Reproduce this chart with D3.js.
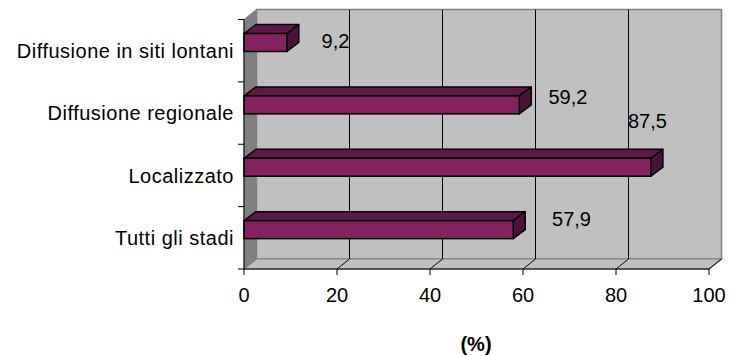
<!DOCTYPE html>
<html>
<head>
<meta charset="utf-8">
<script src="https://cdn.jsdelivr.net/npm/d3@7"></script>
<style>
  html, body { margin: 0; padding: 0; background: #ffffff; }
  svg { display: block; }
  text { font-family: "Liberation Sans", Arial, sans-serif; fill: #000; }
</style>
</head>
<body>
<svg id="chart" width="730" height="356"></svg>
<script>
// Survival by stage (%)
const categories = ["Diffusione in siti lontani", "Diffusione regionale", "Localizzato", "Tutti gli stadi"];
const values = [9.2, 59.2, 87.5, 57.9];
const valueLabels = ["9,2", "59,2", "87,5", "57,9"];
const xTicks = [0, 20, 40, 60, 80, 100];
const axisTitle = "(%)";

// Label nudges (px) relative to bar end / bar middle
const labelNudge = [[48.7, -1.5], [48.7, -8], [-3.4, -46.5], [58.3, -10.5]];

const svg = d3.select("#chart");

const x = d3.scaleLinear().domain([0, 100]).range([244, 709]);
const y = d3.scaleBand().domain(categories).range([19.5, 269]).paddingInner(0).paddingOuter(0);

// 3D depth offset of the walls and of the bars
const wall = { dx: 12.5, dy: -10 };
const bar = { dx: 12, dy: -9 };

const x0 = x(0), x1 = x(100), yTop = y.range()[0], yBot = y.range()[1];

// Back wall
svg.append("rect")
  .attr("x", x0 + wall.dx).attr("y", yTop + wall.dy)
  .attr("width", x1 - x0).attr("height", yBot - yTop)
  .attr("fill", "#c0c0c0").attr("stroke", "#808080").attr("stroke-width", 1.5);

// Left side wall
svg.append("polygon")
  .attr("points", [[x0, yTop], [x0 + wall.dx, yTop + wall.dy], [x0 + wall.dx, yBot + wall.dy], [x0, yBot]].join(" "))
  .attr("fill", "#808080").attr("stroke", "#808080").attr("stroke-width", 1);

// Floor
svg.append("polygon")
  .attr("points", [[x0, yBot], [x0 + wall.dx, yBot + wall.dy], [x1 + wall.dx, yBot + wall.dy], [x1, yBot]].join(" "))
  .attr("fill", "#c0c0c0").attr("stroke", "#808080").attr("stroke-width", 1.2);

// Gridlines on the back wall
svg.append("g").selectAll("line")
  .data(xTicks.slice(1, -1))
  .join("line")
  .attr("x1", d => x(d) + wall.dx).attr("x2", d => x(d) + wall.dx)
  .attr("y1", yTop + wall.dy).attr("y2", yBot + wall.dy)
  .attr("stroke", "#000").attr("stroke-width", 1);

// Floor diagonals at each tick
svg.append("g").selectAll("line")
  .data(xTicks.slice(1))
  .join("line")
  .attr("x1", d => x(d)).attr("x2", d => x(d) + wall.dx)
  .attr("y1", yBot).attr("y2", yBot + wall.dy)
  .attr("stroke", "#000").attr("stroke-width", 1);

// Bars
const faceTop = d => y(d) + 14;
const faceH = 18;
const g = svg.append("g").selectAll("g")
  .data(categories.map((c, i) => ({ c, v: values[i], i })))
  .join("g");

// top face
g.append("polygon")
  .attr("points", d => {
    const t = faceTop(d.c), a = x(0), b = x(d.v);
    return [[a, t], [a + bar.dx, t + bar.dy], [b + bar.dx, t + bar.dy], [b, t]].join(" ");
  })
  .attr("fill", "#5e1a47").attr("stroke", "#000").attr("stroke-width", 1.5).attr("stroke-linejoin", "round");

// end face
g.append("polygon")
  .attr("points", d => {
    const t = faceTop(d.c), b = x(d.v);
    return [[b, t], [b + bar.dx, t + bar.dy], [b + bar.dx, t + faceH + bar.dy], [b, t + faceH]].join(" ");
  })
  .attr("fill", "#4a1238").attr("stroke", "#000").attr("stroke-width", 1.5).attr("stroke-linejoin", "round");

// front face
g.append("rect")
  .attr("x", x(0)).attr("y", d => faceTop(d.c))
  .attr("width", d => x(d.v) - x(0)).attr("height", faceH)
  .attr("fill", "#84215f").attr("stroke", "#000").attr("stroke-width", 1.5);

// Value labels
g.append("text")
  .attr("x", d => x(d.v) + labelNudge[d.i][0])
  .attr("y", d => faceTop(d.c) + faceH / 2 + labelNudge[d.i][1] + 7.2)
  .attr("text-anchor", "middle")
  .attr("font-size", 20)
  .text(d => valueLabels[d.i]);

// Left (category) axis
svg.append("line")
  .attr("x1", x0).attr("x2", x0).attr("y1", yTop).attr("y2", yBot)
  .attr("stroke", "#000").attr("stroke-width", 1);
const bandEdges = categories.map(c => y(c)).concat([yBot]);
svg.append("g").selectAll("line")
  .data(bandEdges)
  .join("line")
  .attr("x1", x0 - 6).attr("x2", x0).attr("y1", d => d).attr("y2", d => d)
  .attr("stroke", "#000").attr("stroke-width", 1);
svg.append("g").selectAll("text")
  .data(categories)
  .join("text")
  .attr("x", 234)
  .attr("y", d => y(d) + y.bandwidth() / 2 + 7.2)
  .attr("text-anchor", "end")
  .attr("font-size", 20)
  .attr("letter-spacing", 0.5)
  .text(d => d);

// Bottom (value) axis
svg.append("line")
  .attr("x1", x0).attr("x2", x1).attr("y1", yBot).attr("y2", yBot)
  .attr("stroke", "#000").attr("stroke-width", 1);
svg.append("g").selectAll("line")
  .data(xTicks)
  .join("line")
  .attr("x1", d => x(d)).attr("x2", d => x(d)).attr("y1", yBot).attr("y2", yBot + 6)
  .attr("stroke", "#000").attr("stroke-width", 1);
svg.append("g").selectAll("text")
  .data(xTicks)
  .join("text")
  .attr("x", d => x(d))
  .attr("y", 302)
  .attr("text-anchor", "middle")
  .attr("font-size", 20)
  .text(d => d);

// Axis title
svg.append("text")
  .attr("x", 476).attr("y", 351)
  .attr("text-anchor", "middle")
  .attr("font-size", 20)
  .attr("font-weight", "bold")
  .text(axisTitle);
</script>
</body>
</html>
